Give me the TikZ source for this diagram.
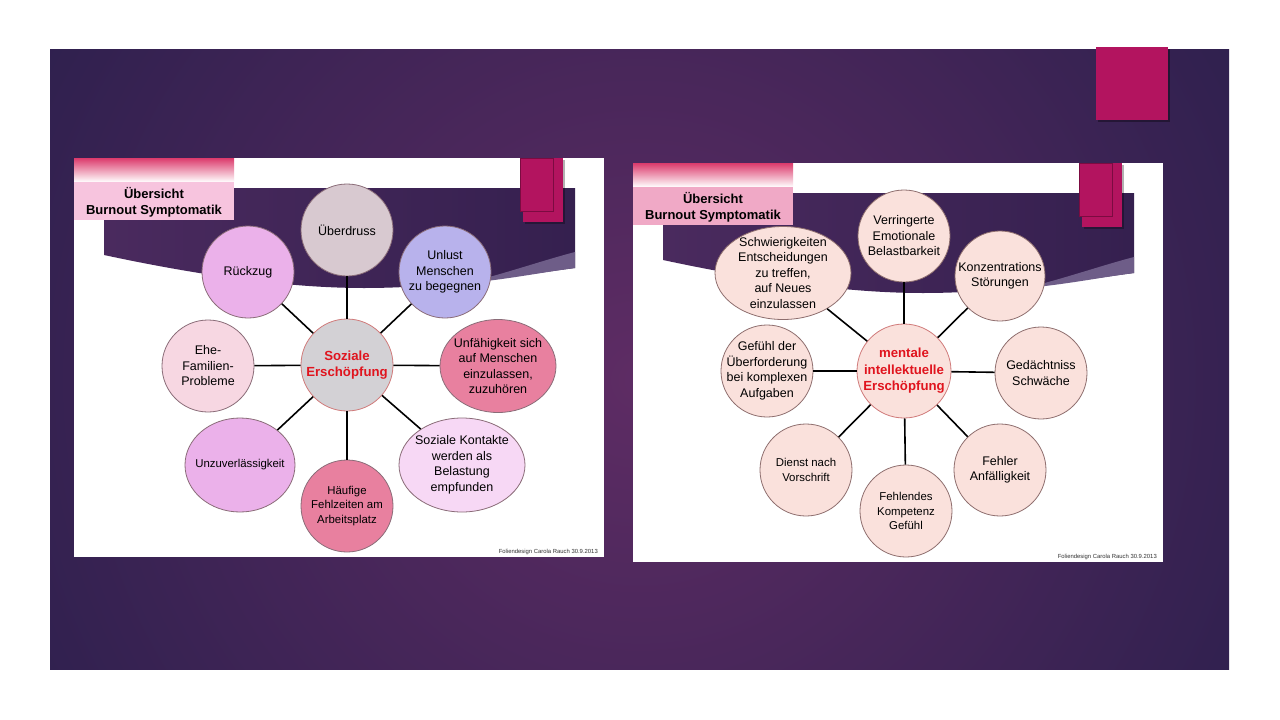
\documentclass[tikz,border=0pt]{standalone}
\usepackage{fontspec}
\setmainfont{Liberation Sans}
\usetikzlibrary{shapes.geometric}
\definecolor{bgdark}{HTML}{2A1F4C}
\definecolor{bglight}{HTML}{5E2C64}
\definecolor{mag}{HTML}{B3145F}
\definecolor{magedge}{HTML}{7C0B41}
\definecolor{barpink}{HTML}{DC3A6C}
\definecolor{labL}{HTML}{F7C4DE}
\definecolor{labR}{HTML}{F0A9C6}
\definecolor{bnl}{HTML}{4A2A5E}
\definecolor{bnm}{HTML}{5C2D66}
\definecolor{bnr}{HTML}{35204F}
\definecolor{bnstrip}{HTML}{6E5D88}
\definecolor{bubline}{HTML}{8A6C78}
\definecolor{redtxt}{HTML}{E0141E}
\definecolor{cgrey}{HTML}{D3D1D5}
\definecolor{cedge}{HTML}{D07A7A}
\definecolor{fUeber}{HTML}{D8C9D0}
\definecolor{fOrchid}{HTML}{EBB1EA}
\definecolor{fLav}{HTML}{B8B2EC}
\definecolor{fPale}{HTML}{F7D7E2}
\definecolor{fPink}{HTML}{E8809F}
\definecolor{fPaleLil}{HTML}{F7D8F5}
\definecolor{fPeach}{HTML}{FAE1DC}
\definecolor{pedge}{HTML}{8E6E6E}
\tikzset{
  bub/.style={circle, draw=bubline, line width=0.8pt, inner sep=0pt, minimum size=92pt},
  ell/.style={ellipse, draw=bubline, line width=0.8pt, inner sep=0pt},
  txt/.style={align=center, text=black, font=\fontsize{12.5}{15.5}\selectfont},
  txts/.style={align=center, text=black, font=\fontsize{11.4}{14.6}\selectfont},
  ctxt/.style={align=center, text=redtxt, font=\fontsize{13.2}{16.5}\selectfont\bfseries},
  conn/.style={draw=black, line width=1.6pt},
  titletxt/.style={align=center, text=black, font=\fontsize{13}{16.3}\selectfont\bfseries},
  foot/.style={anchor=base east, inner sep=0pt, text=black!80, font=\fontsize{5.9}{7}\selectfont},
}
\newcommand{\drawpanel}[2]{%
  \fill[white] (0,0) rectangle (530,399);
  \shade[left color=bnl, middle color=bnm, right color=bnr]
    (30,30) -- (501,30) -- (501,110)
    .. controls (440,118) and (370,130) .. (290,130)
    .. controls (200,130) and (100,112) .. (30,97) -- cycle;
  \fill[bnstrip] (501,94) .. controls (470,102) and (430,116) .. (392,125)
    .. controls (430,122) and (470,114) .. (501,110) -- cycle;
  \shade[top color=barpink, bottom color=white] (0,0) rectangle (160,24);
  \fill[#1] (0,24) rectangle (160,62);
  \node[titletxt] (#2title) at (80,44) {Übersicht\\Burnout Symptomatik};
  \fill[black, opacity=0.3] (451,2) rectangle (491,66);
  \fill[mag] (449,0) rectangle (489,64);
  \filldraw[fill=mag, draw=magedge, line width=0.7pt] (446,0) rectangle (479,53);
  \node[foot] (#2foot) at (524,395) {Foliendesign Carola Rauch 30.9.2013};
}
\begin{document}
\begin{tikzpicture}[x=1pt,y=-1pt]
\useasboundingbox (0,0) rectangle (1280,720);
\fill[white] (0,0) rectangle (1280,720);
% slide background
\begin{scope}
  \clip (50,49) rectangle (1229,669);
  \fill[bgdark] (50,49) rectangle (1229,669);
  \shade[inner color=bglight, outer color=bgdark] (640,380) circle (760);
\end{scope}
% big magenta square
\fill[black, opacity=0.35] (1098,49) rectangle (1170,122);
\fill[mag] (1096,47) rectangle (1168,120);
% panels
\begin{scope}[shift={(74,158)}]
  \drawpanel{labL}{L}
\end{scope}
\begin{scope}[shift={(633,163)}]
  \drawpanel{labR}{R}
\end{scope}
% ---------- left diagram ----------
\node[bub, fill=cgrey, draw=cedge, label={[ctxt]center:{Soziale\\Erschöpfung}}] (c1) at (347,365) {};
\node[bub, fill=fUeber, label={[txt]center:{Überdruss}}] (l1) at (347,230) {};
\node[bub, fill=fOrchid, label={[txt]center:{Rückzug}}] (l2) at (248,272) {};
\node[bub, fill=fLav, label={[txt]center:{Unlust\\Menschen\\zu begegnen}}] (l3) at (445,272) {};
\node[bub, fill=fPale, label={[txt]center:{Ehe-\\Familien-\\Probleme}}] (l4) at (208,366) {};
\node[ell, fill=fPink, minimum width=116pt, minimum height=93pt, label={[txt]center:{Unfähigkeit sich\\auf Menschen\\einzulassen,\\zuzuhören}}] (l5) at (498,366) {};
\node[ell, fill=fOrchid, minimum width=110pt, minimum height=94pt, label={[txts]center:{Unzuverlässigkeit}}] (l6) at (240,465) {};
\node[bub, fill=fPink, label={[txts]center:{Häufige\\Fehlzeiten am\\Arbeitsplatz}}] (l7) at (347,506) {};
\node[ell, fill=fPaleLil, minimum width=126pt, minimum height=94pt, label={[txt]center:{Soziale Kontakte\\werden als\\Belastung\\empfunden}}] (l8) at (462,465) {};
\foreach \n in {l1,l2,l3,l4,l5,l6,l7,l8} \draw[conn] (c1) -- (\n);
% ---------- right diagram ----------
\begin{scope}[bubline/.style={}]
\end{scope}
\node[bub, fill=fPeach, draw=cedge, minimum size=94pt, label={[ctxt]center:{mentale\\intellektuelle\\Erschöpfung}}] (c2) at (904,371) {};
\node[bub, fill=fPeach, draw=pedge, label={[txt]center:{Verringerte\\Emotionale\\Belastbarkeit}}] (r1) at (904,236) {};
\node[ell, fill=fPeach, draw=pedge, minimum width=136pt, minimum height=93pt, label={[txt]center:{Schwierigkeiten\\Entscheidungen\\zu treffen,\\auf Neues\\einzulassen}}] (r2) at (783,273) {};
\node[bub, fill=fPeach, draw=pedge, minimum size=90pt, label={[txt]center:{Konzentrations\\Störungen}}] (r3) at (1000,276) {};
\node[bub, fill=fPeach, draw=pedge, label={[txt]center:{Gefühl der\\Überforderung\\bei komplexen\\Aufgaben}}] (r4) at (767,371) {};
\node[bub, fill=fPeach, draw=pedge, label={[txt]center:{Gedächtniss\\Schwäche}}] (r5) at (1041,373) {};
\node[bub, fill=fPeach, draw=pedge, label={[txts]center:{Dienst nach\\Vorschrift}}] (r6) at (806,470) {};
\node[bub, fill=fPeach, draw=pedge, label={[txts]center:{Fehlendes\\Kompetenz\\Gefühl}}] (r7) at (906,511) {};
\node[bub, fill=fPeach, draw=pedge, label={[txt]center:{Fehler\\Anfälligkeit}}] (r8) at (1000,470) {};
\foreach \n in {r1,r2,r3,r4,r5,r6,r7,r8} \draw[conn] (c2) -- (\n);
\end{tikzpicture}
\end{document}
